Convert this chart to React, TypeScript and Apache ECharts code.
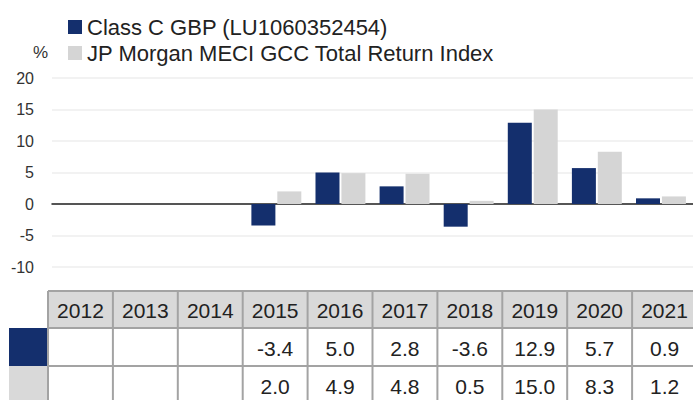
import React, { useEffect, useRef } from "react";
import * as echarts from "echarts";

const years = ["2012", "2013", "2014", "2015", "2016", "2017", "2018", "2019", "2020", "2021"];
const classC: (number | null)[] = [null, null, null, -3.4, 5.0, 2.8, -3.6, 12.9, 5.7, 0.9];
const jpm: (number | null)[] = [null, null, null, 2.0, 4.9, 4.8, 0.5, 15.0, 8.3, 1.2];
const seriesNames = ["Class C GBP (LU1060352454)", "JP Morgan MECI GCC Total Return Index"];

const NAVY = "#142f6d";
const GREY = "#d5d5d5";
const FONT = "'Liberation Sans', Arial, sans-serif";

export default function App() {
  const ref = useRef<HTMLDivElement>(null);
  useEffect(() => {
    document.body.style.margin = "0";
    if (!ref.current) return;
    const chart = echarts.init(ref.current, undefined, { renderer: "svg" });

    // table layout
    const tLeft = 48;
    const colW = 64.9;
    const rowTops = [291, 328, 366, 404];
    const border = "#a3a3a3";
    const graphics: any[] = [];
    const tRight = tLeft + colW * years.length;
    graphics.push({
      type: "rect",
      shape: { x: tLeft, y: rowTops[0], width: tRight - tLeft, height: rowTops[1] - rowTops[0] },
      style: { fill: "#d9d9d9" },
      silent: true,
    });
    graphics.push({
      type: "rect",
      shape: { x: 9, y: rowTops[1], width: tLeft - 9, height: rowTops[2] - rowTops[1] },
      style: { fill: NAVY },
      silent: true,
    });
    graphics.push({
      type: "rect",
      shape: { x: 9, y: rowTops[2], width: tLeft - 9, height: rowTops[3] - rowTops[2] },
      style: { fill: "#d9d9d9" },
      silent: true,
    });
    for (let r = 0; r < 3; r++) {
      graphics.push({
        type: "line",
        shape: { x1: tLeft, y1: rowTops[r], x2: tRight, y2: rowTops[r] },
        style: { stroke: border, lineWidth: 2 },
        silent: true,
      });
    }
    for (let c = 0; c <= years.length; c++) {
      const x = tLeft + c * colW;
      graphics.push({
        type: "line",
        shape: { x1: x, y1: rowTops[0], x2: x, y2: 400 },
        style: { stroke: border, lineWidth: 2 },
        silent: true,
      });
    }
    const rows: (string | null)[][] = [
      years,
      classC.map((v) => (v == null ? null : v.toFixed(1))),
      jpm.map((v) => (v == null ? null : v.toFixed(1))),
    ];
    rows.forEach((row, r) => {
      row.forEach((txt, c) => {
        if (txt == null) return;
        graphics.push({
          type: "text",
          x: tLeft + c * colW + colW / 2,
          y: (rowTops[r] + rowTops[r + 1]) / 2 + 1,
          style: {
            text: txt,
            fill: "#222",
            font: `21px ${FONT}`,
            align: "center",
            verticalAlign: "middle",
          },
          silent: true,
        });
      });
    });
    graphics.push({
      type: "text",
      x: 33,
      y: 52,
      style: { text: "%", fill: "#333", font: `17px ${FONT}`, align: "left", verticalAlign: "middle" },
      silent: true,
    });

    chart.setOption({
      animation: false,
      legend: {
        orient: "vertical",
        left: 63,
        top: 10,
        itemWidth: 14,
        itemHeight: 14,
        itemGap: 2,
        itemTextGap: 11,
        icon: "rect",
        data: seriesNames,
        textStyle: { fontSize: 22, color: "#222", fontFamily: FONT, lineHeight: 24 },
      },
      grid: { left: 52, right: 0, top: 78, bottom: 133, containLabel: false },
      xAxis: {
        type: "category",
        data: years,
        axisLine: { onZero: true, lineStyle: { color: "#222", width: 1.5 } },
        axisTick: { show: false },
        axisLabel: { show: false },
        splitLine: { show: false },
      },
      yAxis: {
        type: "value",
        min: -10,
        max: 20,
        interval: 5,
        axisLine: { show: false },
        axisTick: { show: false },
        axisLabel: { color: "#333", fontSize: 16, fontFamily: FONT, margin: 18 },
        splitLine: { lineStyle: { color: "#eeeeee", width: 1.5 } },
      },
      series: [
        {
          name: seriesNames[0],
          type: "bar",
          data: classC,
          barWidth: 24,
          barGap: "8%",
          itemStyle: { color: NAVY },
        },
        {
          name: seriesNames[1],
          type: "bar",
          data: jpm,
          barWidth: 24,
          barGap: "8%",
          itemStyle: { color: GREY },
        },
      ],
      graphic: graphics,
    });
    return () => chart.dispose();
  }, []);
  return <div ref={ref} style={{ width: 693, height: 400 }} />;
}
